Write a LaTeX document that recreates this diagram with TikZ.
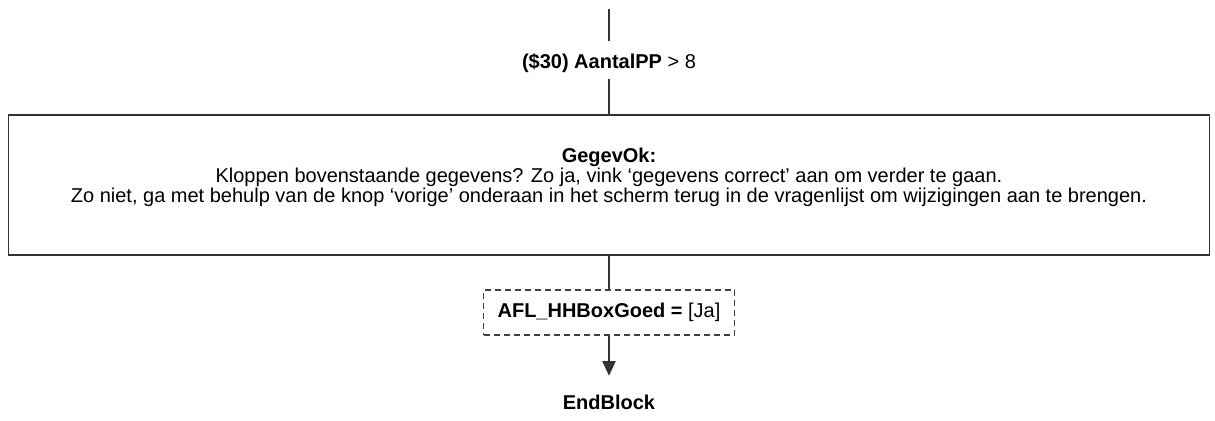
\documentclass[tikz,border=0pt]{standalone}
\usepackage{fontspec}
\setmainfont{Liberation Sans}
\usetikzlibrary{arrows.meta}
\tikzset{
  flowline/.style={draw=black!80, line width=0.8pt},
  flowtext/.style={font=\fontsize{15}{15}\selectfont, inner sep=0pt, align=center},
  blockbox/.style={draw=black!80, line width=0.8pt, minimum width=900.75pt,
    minimum height=105pt, inner sep=0pt},
  condbox/.style={draw=black!75, line width=0.8pt, dash pattern=on 4.5pt off 3pt,
    minimum width=188.25pt, minimum height=33.75pt, inner sep=0pt,
    font=\fontsize{15}{15}\selectfont}
}
\begin{document}
\begin{tikzpicture}[x=0.75pt, y=-0.75pt]
      \useasboundingbox (0,0) rectangle (1215,421);
      \coordinate (start) at (609,9);
      \node[flowtext] (aantal) at (609,63) {\textbf{(\$30) AantalPP} > 8};
      \node[blockbox, label={[flowtext, yshift=5.5pt]center:{\textbf{GegevOk:}\\
        Kloppen bovenstaande gegevens? Zo ja, vink ‘gegevens correct’ aan om verder te gaan.\\
        Zo niet, ga met behulp van de knop ‘vorige’ onderaan in het scherm terug in de vragenlijst om wijzigingen aan te brengen.}}]
        (gegevok) at (609,185) {};
      \node[condbox] (boxgoed) at (609,312.5) {\textbf{AFL\_HHBoxGoed =} [Ja]};
      \node[flowtext] (endblock) at (609,402) {\textbf{EndBlock}};
      \begin{scope}[flowline]
        \draw[shorten >=9pt] (start) -- (aantal);
        \draw[shorten <=5pt] (aantal) -- (gegevok);
        \draw (gegevok) -- (boxgoed);
        \draw[-{Triangle[length=11pt, width=10pt]}, shorten >=14pt] (boxgoed) -- (endblock);
      \end{scope}
    \end{tikzpicture}
\end{document}
